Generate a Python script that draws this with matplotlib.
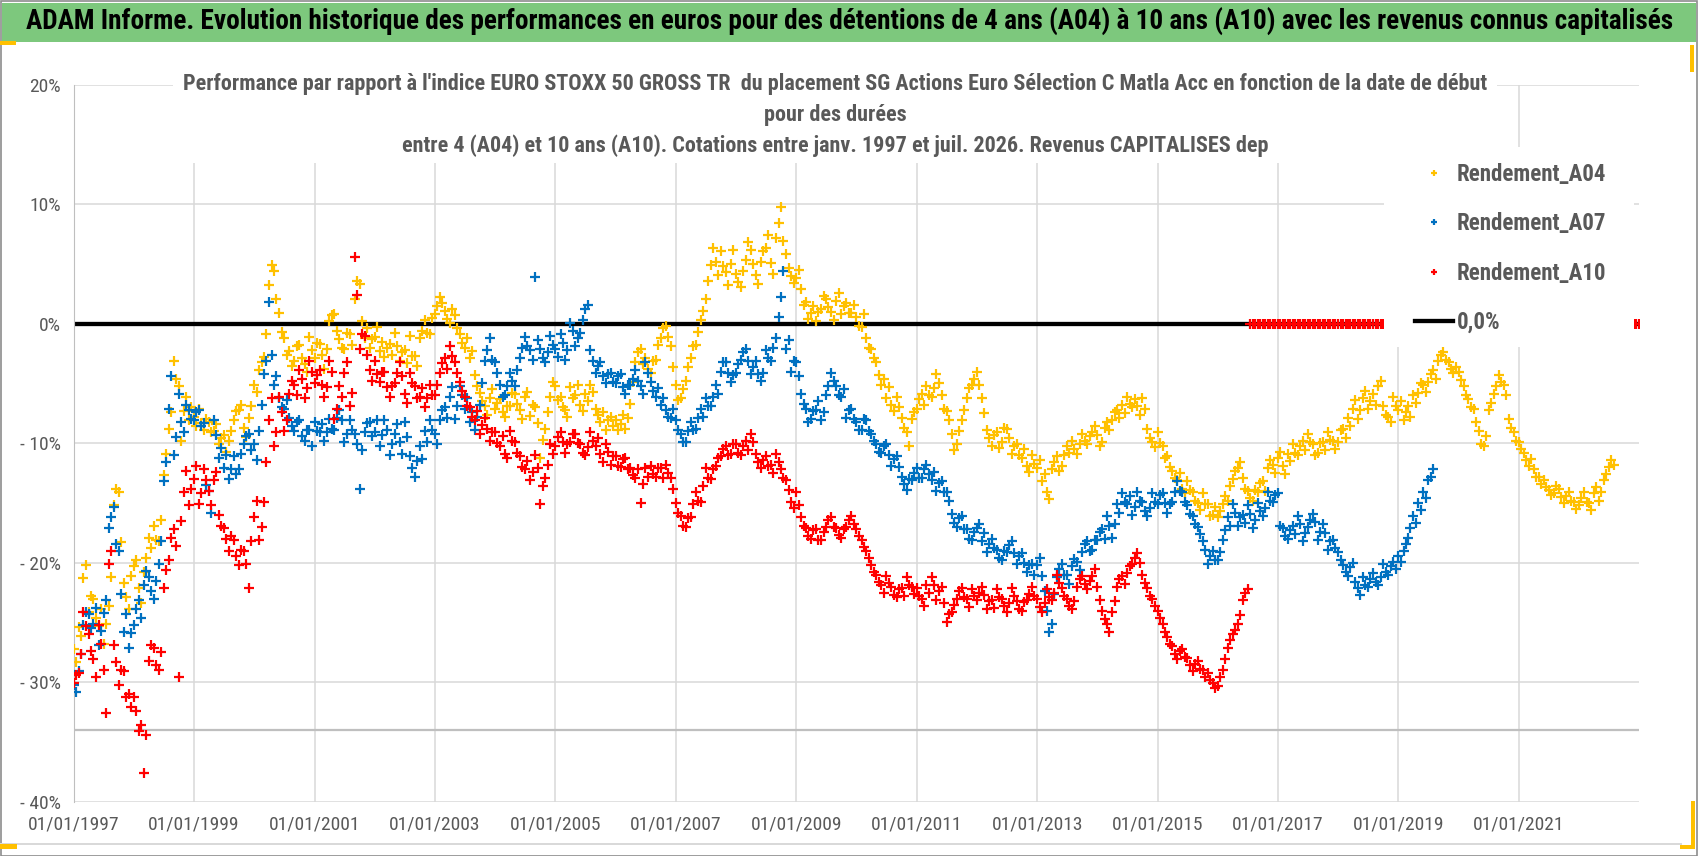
import matplotlib
matplotlib.use('Agg')
import matplotlib.pyplot as plt
import pandas as pd
from matplotlib import font_manager
from matplotlib.patches import Rectangle

# ---- data (percent, two readings per month: 1st and 15th) ----
a04_start = '1997-01-01'
a04 = [
    -27.2, -28.3, -25.4, -26.1, -21.3, -20.2, -24.1, -22.8, -23.0, -24.6, -25.3, -23.9,
    -26.8, -25.1, -23.6, -21.2, -15.2, -13.8, -14.1, -18.3, -21.7, -22.9, -23.9, -21.1,  # 1997
    -20.3, -19.8, -22.1, -23.4, -20.8, -19.6, -17.9, -18.8, -16.9, -18.1, -18.2, -16.4,
    -12.7, -10.9, -8.8, -7.4, -3.1, -4.6, -5.2, -9.8, -7.3, -6.1, -8.1, -7.0,  # 1998
    -7.8, -8.6, -7.1, -8.3, -8.9, -8.0, -8.2, -9.1, -9.0, -8.4, -10.1, -9.6,
    -9.3, -10.7, -9.8, -9.0, -8.1, -7.3, -7.2, -6.8, -8.7, -9.5, -7.9, -6.9,  # 1999
    -5.1, -5.7, -3.9, -3.2, -2.8, -0.9, 3.2, 4.9, 4.4, 2.1, 0.9, -0.7,
    -1.2, -2.6, -2.3, -3.5, -3.1, -1.9, -1.8, -2.9, -3.4, -4.0, -1.1, -2.2,  # 2000
    -2.9, -1.6, -1.7, -2.6, -3.8, -2.1, 0.2, 0.7, 0.8, -0.6, -1.3, -2.0,
    -2.1, -0.8, -0.9, -1.8, 2.1, 3.6, 3.3, 0.2, -1.2, -0.4, -2.0, -1.3,  # 2001
    -1.1, -0.3, -2.3, -1.5, -2.8, -2.0, -1.7, -2.6, -0.8, -1.9, -3.1, -2.4,
    -2.2, -3.3, -1.0, -2.7, -2.7, -3.5, -1.2, -0.6, 0.3, -0.8, -0.9, 0.5,  # 2002
    0.8, 1.5, 2.2, 1.7, 1.1, 0.4, 0.1, 1.2, 0.7, -0.4, -0.9, -1.6,
    -2.0, -1.2, -2.9, -2.3, -4.3, -5.2, -5.8, -6.5, -6.9, -7.6, -6.2, -5.5,  # 2003
    -7.1, -6.6, -6.3, -7.4, -7.8, -6.9, -6.9, -5.8, -5.9, -6.7, -7.2, -8.0,
    -6.1, -5.7, -7.7, -6.8, -7.0, -8.3, -11.2, -9.7, -8.8, -7.4, -6.1, -4.9,  # 2004
    -5.2, -6.4, -6.1, -7.0, -7.2, -7.8, -5.3, -6.2, -6.0, -5.1, -6.8, -7.3,
    -5.9, -6.5, -5.1, -5.7, -7.1, -7.6, -8.2, -7.4, -8.9, -8.1, -7.8, -8.6,  # 2005
    -8.1, -8.9, -8.4, -7.6, -8.8, -7.9, -6.7, -4.9, -3.2, -2.4, -2.1, -3.4,
    -2.9, -3.8, -4.1, -3.1, -3.0, -1.8, -1.2, -0.4, -0.2, -1.1, -1.9, -3.6,  # 2006
    -5.1, -6.4, -6.2, -5.5, -4.8, -3.6, -2.9, -1.9, -1.8, -0.7, 0.3, 1.1,
    2.1, 3.6, 4.9, 6.3, 5.2, 4.1, 6.1, 4.8, 4.3, 3.2, 5.0, 6.2,  # 2007
    4.2, 3.5, 3.1, 4.4, 5.3, 6.8, 6.2, 5.0, 4.1, 3.3, 5.2, 6.1,
    6.3, 7.4, 5.1, 4.2, 7.2, 8.4, 9.8, 6.9, 5.8, 4.7, 4.0, 3.4,  # 2008
    3.8, 4.5, 2.9, 1.6, 1.8, 0.4, 0.9, 1.5, 0.2, 1.0, 1.2, 2.3,
    2.1, 1.4, 1.0, 0.3, 1.9, 2.6, 0.8, 1.5, 1.7, 0.9, 0.9, 1.6,  # 2009
    0.6, -0.2, -0.3, 0.8, -1.2, -2.0, -2.1, -2.9, -3.2, -4.3, -5.1, -4.6,
    -6.2, -5.3, -6.8, -7.3, -6.1, -7.0, -7.9, -8.7, -9.1, -10.2, -8.0, -7.4,  # 2010
    -7.1, -6.3, -5.9, -6.8, -5.2, -6.0, -6.1, -5.4, -4.2, -5.0, -6.0, -7.1,
    -7.3, -8.1, -9.2, -10.6, -10.1, -9.0, -8.1, -7.2, -6.2, -5.4, -5.1, -4.6,  # 2011
    -4.0, -5.1, -6.2, -7.5, -8.9, -9.6, -10.2, -9.3, -9.1, -10.4, -9.9, -8.7,
    -8.8, -9.6, -10.9, -10.2, -10.1, -11.0, -11.2, -10.5, -11.9, -12.4, -11.0, -11.7,  # 2012
    -12.1, -11.4, -13.2, -12.6, -14.1, -14.7, -12.2, -11.6, -11.1, -12.3, -11.9, -11.0,
    -10.2, -10.8, -9.8, -10.5, -10.9, -10.1, -9.2, -9.8, -10.1, -9.4, -9.1, -8.6,  # 2013
    -9.3, -10.2, -9.9, -8.7, -8.2, -8.9, -8.1, -7.4, -7.2, -7.9, -6.8, -7.5,
    -6.1, -6.7, -7.0, -6.3, -6.9, -7.6, -6.2, -7.1, -8.8, -9.6, -9.9, -10.3,  # 2014
    -9.1, -10.0, -10.2, -11.2, -11.1, -12.0, -12.3, -12.9, -13.1, -12.5, -13.8, -14.2,
    -13.2, -13.9, -14.1, -14.8, -15.0, -15.6, -14.2, -15.1, -15.1, -16.1, -16.0, -15.3,  # 2015
    -16.2, -15.7, -15.1, -14.4, -14.8, -13.6, -13.0, -12.3, -12.1, -11.6, -12.9, -13.8,
    -14.0, -14.6, -14.8, -13.9, -14.1, -13.3, -13.2, -14.0, -12.1, -11.4, -11.8, -12.5,  # 2016
    -11.2, -10.7, -11.9, -12.6, -10.9, -11.5, -10.1, -10.8, -11.0, -10.2, -9.8, -10.6,
    -9.2, -9.9, -10.1, -11.0, -10.8, -10.0, -9.9, -10.6, -9.1, -9.7, -9.8, -10.5,  # 2017
    -9.9, -8.9, -8.8, -9.6, -7.9, -8.6, -7.1, -6.4, -8.0, -7.2, -6.2, -5.6,
    -7.1, -6.5, -5.9, -6.8, -5.2, -4.8, -6.9, -7.6, -7.8, -8.2, -6.1, -6.9,  # 2018
    -7.2, -6.5, -8.1, -7.4, -6.9, -7.8, -6.0, -6.6, -5.8, -5.0, -5.1, -5.7,
    -4.9, -4.2, -3.9, -4.6, -3.1, -2.6, -2.4, -3.0, -3.2, -3.8, -4.1, -3.6,  # 2019
    -4.0, -4.7, -5.2, -6.0, -6.3, -7.0, -7.1, -8.2, -9.0, -10.1, -10.2, -9.4,
    -7.2, -6.6, -5.9, -5.2, -4.3, -4.9, -5.1, -6.0, -8.0, -8.7, -9.1, -9.8,  # 2020
    -9.9, -10.5, -10.8, -11.4, -11.9, -11.3, -12.2, -12.8, -12.8, -13.4, -13.1, -13.7,
    -13.9, -14.3, -14.2, -13.6, -13.8, -14.5, -15.0, -14.4, -14.1, -14.8, -14.9, -15.5,  # 2021
    -15.2, -14.6, -14.1, -14.9, -15.0, -15.6, -14.2, -13.7, -14.8, -14.1, -13.1, -12.6,
    -12.0, -11.4, -11.8,  # 2022
]

a07_start = '1997-01-01'
a07 = [
    -30.2, -30.8, -29.1, -27.6, -25.2, -24.1, -24.3, -25.5, -25.1, -23.8, -26.9, -25.7,
    -24.2, -23.1, -17.1, -16.2, -15.3, -18.4, -19.0, -22.6, -25.8, -24.3, -27.1, -25.9,  # 1997
    -25.2, -23.9, -23.1, -24.6, -21.9, -20.7, -21.2, -22.4, -23.0, -21.5, -20.1, -18.2,
    -13.2, -11.6, -7.1, -4.4, -11.0, -9.5, -5.9, -8.2, -9.1, -6.8, -7.2, -8.0,  # 1998
    -8.1, -7.4, -7.2, -8.6, -8.3, -13.5, -14.0, -15.8, -8.1, -9.3, -11.2, -10.4,
    -12.1, -11.0, -13.0, -12.2, -11.1, -12.6, -12.2, -10.9, -10.1, -9.4, -9.2, -10.6,  # 1999
    -10.1, -11.4, -9.0, -6.8, -4.2, -3.1, 1.8, -2.6, -5.1, -4.4, -6.2, -7.0,
    -7.1, -6.4, -7.9, -8.6, -9.0, -8.2, -8.1, -9.4, -9.8, -8.9, -8.9, -10.2,  # 2000
    -8.2, -9.0, -9.1, -8.4, -9.8, -9.1, -8.0, -8.8, -8.9, -7.9, -7.2, -8.1,
    -9.9, -9.2, -8.1, -8.9, -9.2, -10.1, -13.8, -10.6, -9.1, -8.3, -8.2, -9.4,  # 2001
    -9.1, -8.1, -10.2, -9.3, -8.1, -8.9, -11.0, -10.1, -9.2, -8.4, -9.9, -10.9,
    -8.2, -9.5, -11.1, -12.1, -12.8, -11.5, -10.2, -11.3, -9.0, -9.9, -8.1, -8.9,  # 2002
    -9.2, -10.1, -8.1, -7.2, -7.0, -7.9, -6.1, -5.3, -8.0, -6.9, -5.2, -6.0,
    -7.1, -6.2, -8.2, -7.4, -8.9, -7.8, -6.8, -5.0, -3.1, -2.2, -1.2, -3.0,  # 2003
    -3.2, -4.1, -5.1, -6.1, -6.0, -5.2, -4.1, -4.8, -5.2, -3.9, -2.9, -2.0,
    -1.1, -1.9, -2.2, -3.0, 3.9, -1.4, -2.1, -2.9, -3.2, -2.4, -1.0, -1.8,  # 2004
    -2.1, -2.8, -0.9, -1.6, -3.0, -2.2, 0.1, -0.6, -1.9, -1.2, -0.8, 0.3,
    1.2, 1.6, -2.2, -3.1, -4.1, -3.5, -3.2, -4.4, -5.0, -4.2, -4.1, -4.9,  # 2005
    -5.0, -4.4, -4.2, -5.3, -5.9, -5.1, -5.1, -4.6, -3.9, -4.8, -5.2, -5.9,
    -3.2, -4.1, -4.9, -5.6, -6.1, -5.4, -6.8, -6.2, -7.2, -7.8, -7.9, -7.1,  # 2006
    -8.1, -8.9, -9.2, -9.9, -9.9, -9.0, -8.2, -8.9, -8.8, -7.9, -7.1, -7.8,
    -6.2, -6.9, -6.9, -6.1, -5.1, -5.9, -4.0, -3.2, -3.2, -4.1, -4.9, -4.3,  # 2007
    -4.1, -3.4, -3.0, -2.4, -2.1, -3.1, -4.2, -3.6, -3.1, -4.2, -4.8, -4.1,
    -2.2, -2.9, -3.1, -2.0, -1.2, 0.6, 2.2, 4.4, -2.1, -1.4, -4.0, -3.1,  # 2008
    -3.2, -4.4, -5.9, -6.7, -7.1, -8.2, -8.0, -7.3, -7.2, -6.5, -8.1, -7.4,
    -6.0, -5.2, -4.1, -4.8, -5.2, -6.0, -6.1, -5.5, -7.9, -7.2, -7.1, -8.0,  # 2009
    -8.2, -8.9, -8.9, -8.0, -8.1, -9.0, -9.2, -9.8, -10.1, -10.7, -10.8, -10.2,
    -10.1, -11.0, -11.9, -11.3, -11.1, -12.0, -12.8, -13.4, -13.9, -13.0, -13.1, -12.5,  # 2010
    -12.1, -12.9, -12.9, -12.2, -11.8, -12.6, -13.1, -12.4, -14.0, -13.3, -13.2, -14.1,
    -14.1, -14.8, -15.9, -16.7, -17.0, -16.3, -16.1, -17.2, -17.2, -18.0, -18.1, -17.4,  # 2011
    -17.1, -16.8, -18.2, -17.5, -19.1, -18.4, -18.0, -18.8, -18.9, -19.6, -19.8, -19.0,
    -19.1, -18.5, -18.2, -19.2, -20.1, -19.4, -19.2, -20.0, -20.8, -20.2, -20.1, -21.0,  # 2012
    -20.2, -19.6, -21.1, -22.4, -24.0, -25.8, -25.1, -22.6, -21.2, -20.5, -20.1, -21.0,
    -21.0, -21.8, -20.3, -19.7, -19.9, -20.6, -19.1, -18.4, -18.2, -19.0, -18.9, -18.1,  # 2013
    -18.1, -17.4, -17.2, -18.0, -16.1, -16.9, -17.9, -16.8, -15.1, -15.8, -14.2, -14.9,
    -15.1, -14.4, -16.0, -15.3, -14.1, -14.8, -14.9, -15.7, -16.1, -15.4, -14.2, -14.9,  # 2014
    -15.1, -14.3, -14.2, -15.0, -15.8, -15.1, -14.9, -14.1, -13.2, -14.0, -14.1, -14.9,
    -15.2, -15.9, -16.1, -16.8, -17.0, -17.6, -18.2, -18.9, -20.1, -19.4, -19.0, -19.8,  # 2015
    -19.8, -19.1, -18.1, -17.3, -16.2, -16.9, -15.1, -15.8, -16.9, -16.2, -16.0, -16.7,
    -15.2, -15.9, -17.1, -16.4, -15.0, -15.7, -16.1, -15.4, -14.1, -14.8, -14.9, -14.3,  # 2016
    -14.2, -16.9, -17.1, -17.8, -18.0, -17.3, -16.9, -17.6, -16.1, -16.8, -18.2, -17.5,
    -17.0, -16.4, -15.9, -16.6, -18.1, -17.4, -16.8, -17.5, -18.9, -18.2, -18.1, -18.8,  # 2017
    -19.1, -19.8, -20.2, -20.8, -21.1, -20.4, -20.0, -21.6, -22.1, -22.7, -21.2, -21.9,
    -22.0, -21.4, -20.9, -21.6, -21.9, -21.2, -20.1, -20.8, -21.0, -20.3, -19.9, -20.5,  # 2018
    -19.4, -19.9, -19.0, -18.4, -17.9, -17.1, -16.1, -16.7, -15.0, -15.6, -14.1, -14.6,
    -13.1, -12.8, -12.2,  # 2019
]

a10_start = '1997-01-01'
a10 = [
    -30.1, -29.4, -29.2, -27.6, -24.1, -25.3, -26.0, -27.4, -28.1, -29.6, -25.2, -26.8,
    -29.0, -32.6, -20.1, -19.0, -26.9, -28.3, -30.2, -29.0, -29.1, -31.2, -31.0, -32.1,  # 1997
    -31.2, -32.4, -34.1, -33.6, -37.6, -34.4, -28.2, -26.9, -27.1, -28.6, -29.0, -27.5,
    -22.1, -20.6, -19.8, -17.9, -17.2, -18.6, -29.6, -16.5, -14.1, -12.3, -15.2, -13.8,  # 1998
    -13.0, -11.9, -15.1, -14.2, -12.2, -13.1, -14.0, -15.2, -13.1, -12.4, -16.0, -16.9,
    -17.1, -18.0, -19.0, -17.8, -18.1, -19.4, -20.2, -18.9, -19.0, -20.1, -22.1, -18.2,  # 1999
    -16.2, -14.8, -18.1, -17.0, -14.9, -11.6, -8.1, -6.2, -10.2, -9.1, -6.1, -7.4,
    -9.0, -8.1, -5.9, -4.8, -5.1, -6.0, -3.9, -4.6, -6.2, -5.4, -3.1, -4.0,  # 2000
    -5.0, -4.3, -3.9, -5.1, -6.1, -5.3, -3.1, -4.0, -8.0, -7.1, -5.2, -6.1,
    -4.1, -3.2, -6.9, -5.8, 5.6, 2.4, -2.1, -0.9, -1.0, -2.6, -3.9, -4.8,  # 2001
    -3.1, -4.2, -4.9, -4.0, -4.0, -5.3, -6.1, -5.2, -5.0, -4.1, -3.2, -4.4,
    -5.9, -6.6, -4.1, -5.0, -5.2, -6.2, -6.1, -5.4, -7.0, -6.2, -5.1, -6.0,  # 2002
    -6.0, -5.1, -4.1, -3.3, -2.9, -3.8, -1.9, -2.7, -3.2, -4.1, -4.9, -5.6,
    -6.1, -6.9, -7.0, -7.8, -8.1, -7.3, -9.2, -8.5, -7.9, -8.8, -9.8, -9.1,  # 2003
    -9.1, -10.0, -10.2, -9.4, -10.9, -11.2, -9.0, -9.8, -9.9, -10.8, -11.1, -12.0,
    -12.2, -11.5, -13.1, -12.4, -11.0, -12.1, -15.1, -13.6, -12.9, -11.8, -10.1, -10.9,  # 2004
    -10.2, -9.5, -9.1, -9.9, -10.8, -10.1, -9.9, -9.2, -9.2, -10.0, -10.1, -10.8,
    -11.0, -10.3, -9.1, -9.8, -10.2, -9.6, -10.9, -11.6, -10.1, -10.7, -11.8, -11.1,  # 2005
    -11.1, -11.9, -12.0, -11.3, -11.2, -12.2, -12.1, -12.7, -12.9, -12.2, -15.0, -13.4,
    -12.1, -12.8, -11.9, -12.6, -12.8, -12.1, -12.1, -12.9, -11.8, -12.5, -12.9, -13.8,  # 2006
    -15.0, -15.8, -16.1, -16.9, -17.0, -16.3, -16.2, -15.1, -14.1, -14.8, -14.9, -13.6,
    -12.1, -12.9, -13.0, -12.2, -11.9, -11.2, -11.1, -10.5, -10.2, -11.0, -10.9, -10.1,  # 2007
    -10.1, -10.8, -11.0, -10.2, -9.8, -10.6, -9.2, -9.9, -10.9, -11.6, -12.1, -11.4,
    -11.1, -11.9, -11.8, -12.5, -10.9, -11.6, -12.2, -12.9, -13.1, -13.9, -14.9, -15.4,  # 2008
    -14.1, -15.2, -16.2, -16.9, -17.1, -17.8, -18.0, -17.3, -17.2, -18.1, -18.1, -17.4,
    -17.0, -16.4, -16.2, -17.0, -17.1, -17.7, -17.9, -17.2, -17.0, -16.4, -16.1, -16.8,  # 2009
    -17.2, -17.8, -18.1, -18.7, -19.0, -19.6, -20.2, -20.8, -21.0, -21.6, -21.9, -22.5,
    -21.1, -21.7, -22.0, -22.7, -22.9, -22.2, -22.1, -22.8, -21.2, -21.9, -22.0, -22.6,  # 2010
    -22.1, -22.8, -23.0, -23.6, -21.9, -22.5, -21.2, -21.9, -23.1, -22.4, -22.0, -23.4,
    -25.0, -24.3, -24.1, -23.5, -23.0, -22.4, -22.1, -22.9, -23.0, -23.7, -22.2, -22.8,  # 2011
    -23.1, -22.5, -22.0, -22.7, -23.9, -23.2, -23.1, -23.8, -22.2, -22.9, -23.0, -23.6,
    -24.1, -23.4, -22.1, -22.8, -23.2, -23.9, -24.0, -23.3, -23.1, -22.6, -22.0, -22.8,  # 2012
    -23.0, -23.7, -24.1, -23.4, -22.2, -22.9, -23.1, -22.5, -21.0, -21.7, -22.1, -22.8,
    -23.0, -23.6, -23.9, -23.2, -22.0, -21.4, -21.1, -21.8, -22.2, -21.5, -21.1, -20.5,  # 2013
    -22.0, -23.1, -24.0, -24.7, -25.1, -25.8, -24.1, -23.2, -22.0, -21.4, -21.1, -21.8,
    -20.9, -20.3, -20.1, -19.6, -19.2, -20.0, -21.0, -21.7, -22.1, -22.8, -23.0, -23.6,  # 2014
    -24.0, -24.6, -25.1, -25.8, -26.2, -26.8, -27.0, -27.6, -28.1, -27.4, -27.2, -27.9,
    -28.0, -28.6, -29.1, -28.5, -28.2, -28.9, -29.0, -29.6, -29.2, -29.8, -30.1, -30.5,  # 2015
    -30.3, -29.6, -29.0, -28.1, -27.1, -26.5, -26.0, -25.6, -25.1, -24.4, -23.1, -22.5,
    -22.2,  # 2016
]
# after its last quote the A10 series is plotted at 0 up to the end of the axis
a10_empty_points = 156

zero_dates = ['1997-01-01', '2023-01-01']
zero_line = [0.0, 0.0]
axis_cross = -34.0

xtick_dates = ['1997-01-01', '1999-01-01', '2001-01-01', '2003-01-01', '2005-01-01',
               '2007-01-01', '2009-01-01', '2011-01-01', '2013-01-01', '2015-01-01',
               '2017-01-01', '2019-01-01', '2021-01-01']
xtick_labels = ['01/01/1997', '01/01/1999', '01/01/2001', '01/01/2003', '01/01/2005',
                '01/01/2007', '01/01/2009', '01/01/2011', '01/01/2013', '01/01/2015',
                '01/01/2017', '01/01/2019', '01/01/2021']
ytick_values = [-40, -30, -20, -10, 0, 10, 20]
ytick_labels = ['- 40%', '- 30%', '- 20%', '- 10%', '0%', '10%', '20%']

series_labels = ['Rendement_A04', 'Rendement_A07', 'Rendement_A10', '0,0%']

title = ("ADAM Informe. Evolution historique des performances en euros pour des détentions "
         "de 4 ans (A04) à 10 ans (A10) avec les revenus connus capitalisés")
subtitle = [
    "Performance par rapport à l'indice EURO STOXX 50 GROSS TR  du placement SG Actions "
    "Euro Sélection C Matla Acc en fonction de la date de début",
    "pour des durées",
    "entre 4 (A04) et 10 ans (A10). Cotations entre janv. 1997 et juil. 2026. "
    "Revenus CAPITALISES dep",
]

# ---- look ----
W, H = 1698, 856
GREY = '#595959'
names = {f.name for f in font_manager.fontManager.ttflist}
narrow = next((n for n in ['Liberation Sans Narrow', 'Roboto Condensed', 'Liberation Sans']
               if n in names), 'DejaVu Sans')
plt.rcParams['font.family'] = [narrow, 'DejaVu Sans']


def fig_rect(x0, y0, x1, y1, **kw):
    """rectangle given in image pixels (top-left origin)"""
    return Rectangle((x0 / W, 1 - y1 / H), (x1 - x0) / W, (y1 - y0) / H,
                     transform=fig.transFigure, **kw)


def fit_width(txt, target):
    r = fig.canvas.get_renderer()
    w = txt.get_window_extent(r).width
    txt.set_fontsize(txt.get_fontsize() * target / w)


fig = plt.figure(figsize=(W / 100, H / 100), dpi=100)
ax = fig.add_axes([73.7 / W, 1 - 801.7 / H, (1639.3 - 73.7) / W, (801.7 - 84.7) / H])

d04 = pd.date_range(a04_start, periods=len(a04), freq='SMS')
d07 = pd.date_range(a07_start, periods=len(a07), freq='SMS')
a10_full = a10 + [0.0] * a10_empty_points
d10 = pd.date_range(a10_start, periods=len(a10_full), freq='SMS')

mk = dict(ls='none', marker='+', ms=7.5, mew=1.6, zorder=3)
ax.plot(pd.to_datetime(zero_dates), zero_line, color='black', lw=3.1, zorder=2.5,
        label=series_labels[3])
ax.plot(d04, a04, color='#FFC000', label=series_labels[0], **mk)
ax.plot(d07, a07, color='#0070C0', label=series_labels[1], **mk)
ax.plot(d10, a10_full, color='#FF0000', label=series_labels[2], **mk)
ax.axhline(axis_cross, color='#BFBFBF', lw=1.6, zorder=1.5)

ax.set_xlim(pd.Timestamp('1997-01-01'), pd.Timestamp('2023-01-01'))
ax.set_ylim(-40, 20)
ax.set_xticks(pd.to_datetime(xtick_dates))
ax.set_xticklabels(xtick_labels)
ax.set_yticks(ytick_values)
ax.set_yticklabels(ytick_labels)
ax.grid(True, color='#D9D9D9', lw=1.1)
ax.set_axisbelow(True)
for s in ['top', 'right', 'bottom']:
    ax.spines[s].set_visible(False)
ax.spines['left'].set_color('#BFBFBF')
ax.tick_params(length=0, colors=GREY, labelsize=14)
ax.tick_params(axis='x', pad=10)
ax.tick_params(axis='y', pad=9)

# white box behind the legend (hides the A10 zeros and the 0% line there)
x0 = (1384 - 73.7) / 1565.6
x1 = (1634 - 73.7) / 1565.6
y0 = (801.7 - 347) / 717
y1 = (801.7 - 147) / 717
ax.add_patch(Rectangle((x0, y0), x1 - x0, y1 - y0, transform=ax.transAxes,
                       facecolor='white', edgecolor='none', zorder=4))
h, l = ax.get_legend_handles_labels()
order = [1, 2, 3, 0]
leg = ax.legend([h[i] for i in order], [l[i] for i in order], loc='upper left',
                bbox_to_anchor=(1415 / W, 1 - 163 / H), bbox_transform=fig.transFigure,
                frameon=False, prop={'weight': 'bold', 'size': 16.5},
                labelspacing=1.15, handlelength=1.66, handletextpad=0.15,
                borderpad=0, borderaxespad=0, markerscale=0.55, labelcolor=GREY)
leg.set_zorder(6)

# title bar, subtitle box and frame
fig.add_artist(fig_rect(2, 3, 1696, 42, facecolor='#7DC87D', edgecolor='none', zorder=1))
fig.add_artist(fig_rect(173, 66, 1497, 163, facecolor='white', edgecolor='none', zorder=1))
fig.add_artist(fig_rect(0.5, 0.5, 1697, 855.5, fill=False, edgecolor='#8C8C8C', lw=1.2,
                        zorder=2))
fig.add_artist(fig_rect(0, 843, 1682, 844.5, facecolor='#D9D9D9', edgecolor='none', zorder=2))
for box in [(0, 41, 16, 45), (0, 844, 17, 849), (1690, 45, 1694, 72),
            (1691, 801, 1695, 849), (1680, 845, 1695, 849)]:
    fig.add_artist(fig_rect(*box, facecolor='#FFC000', edgecolor='none', zorder=2))

t = fig.text(850 / W, 1 - 22 / H, title, ha='center', va='center', fontsize=16,
             fontweight='bold', color='black', zorder=3)
fit_width(t, 1646)

sub_y = [84, 115, 146]
subs = [fig.text(835 / W, 1 - y / H, s, ha='center', va='center', fontsize=14,
                 fontweight='bold', color=GREY, zorder=3) for s, y in zip(subtitle, sub_y)]
fit_width(subs[0], 1310)
for s in subs[1:]:
    s.set_fontsize(subs[0].get_fontsize())

fig.savefig('out.png', dpi=100)
